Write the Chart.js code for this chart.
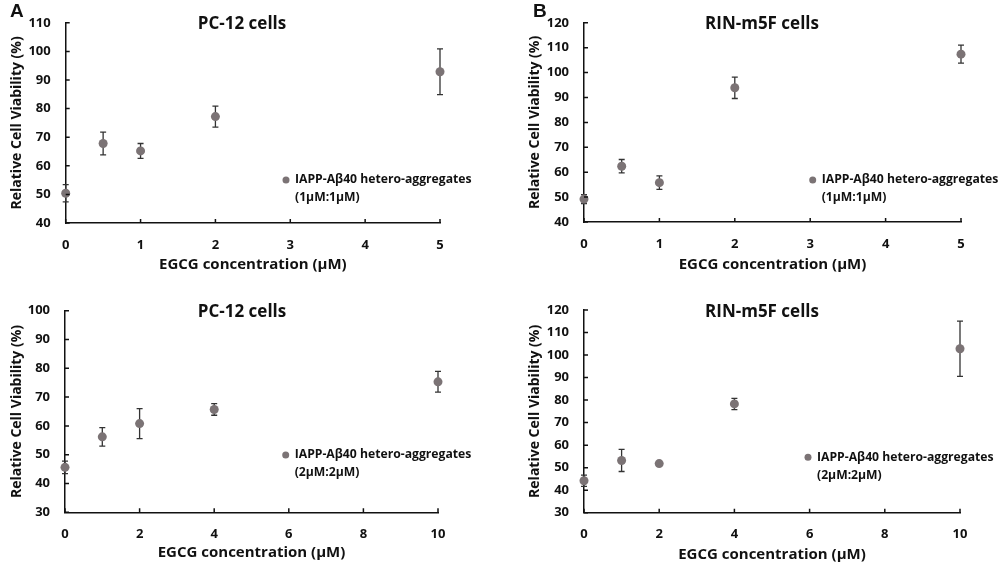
<!DOCTYPE html>
<html>
<head>
<meta charset="utf-8">
<script src="https://cdn.jsdelivr.net/npm/chart.js@4.4.0/dist/chart.umd.min.js"></script>
<style>
  body { margin: 0; background: #fff; width: 1003px; height: 567px; position: relative; overflow: hidden; }
  canvas { position: absolute; }
</style>
</head>
<body>
<canvas id="chartA" width="500" height="285" style="left:0;top:0"></canvas>
<canvas id="chartB" width="503" height="285" style="left:500px;top:0"></canvas>
<canvas id="chartC" width="500" height="282" style="left:0;top:285px"></canvas>
<canvas id="chartD" width="503" height="282" style="left:500px;top:285px"></canvas>
<script>
// data
const concTop = [0, 0.5, 1, 2, 5];
const concBottom = [0, 1, 2, 4, 10];

const viabA = [50.4, 67.8, 65.2, 77.2, 92.9];
const errA = [3.0, 4.0, 2.6, 3.7, 8.0];
const viabB = [49.2, 62.4, 55.8, 93.9, 107.4];
const errB = [1.8, 2.7, 2.7, 4.3, 3.6];
const viabC = [45.6, 56.2, 60.8, 65.7, 75.3];
const errC = [2.2, 3.2, 5.2, 2.0, 3.6];
const viabD = [44.2, 53.2, 51.8, 78.3, 102.8];
const errD = [2.5, 4.9, 0.5, 2.5, 12.3];

const yRangeA = [40, 110];
const yRangeB = [40, 120];
const yRangeC = [30, 100];
const yRangeD = [30, 120];

const cellTitles = ['PC-12 cells', 'RIN-m5F cells'];
const seriesName = 'IAPP-Aβ40 hetero-aggregates';
const ratioTop = '(1μM:1μM)';
const ratioBottom = '(2μM:2μM)';
const xTitle = 'EGCG concentration (μM)';
const yTitle = 'Relative Cell Viability (%)';

const FONT = "'Open Sans', Lato, sans-serif";
const DOT = '#7b7375';
const INK = '#111';

const extras = {
  id: 'extras',
  beforeDatasetsDraw(chart, args, o) {
    const { ctx, scales: { x, y } } = chart;
    const ds = chart.data.datasets[0].data;
    ctx.save();
    ctx.strokeStyle = '#333';
    ctx.lineWidth = 1.3;
    ds.forEach((p, i) => {
      const px = x.getPixelForValue(p.x);
      const t = y.getPixelForValue(p.y + o.err[i]);
      const b = y.getPixelForValue(p.y - o.err[i]);
      ctx.beginPath();
      ctx.moveTo(px, t); ctx.lineTo(px, b);
      ctx.moveTo(px - 3, t); ctx.lineTo(px + 3, t);
      ctx.moveTo(px - 3, b); ctx.lineTo(px + 3, b);
      ctx.stroke();
    });
    ctx.restore();
  },
  afterDraw(chart, args, o) {
    const { ctx, chartArea: a, scales: { x, y } } = chart;
    ctx.save();
    // inward tick marks
    ctx.strokeStyle = INK;
    ctx.lineWidth = 1.5;
    ctx.beginPath();
    y.ticks.forEach(t => {
      const py = y.getPixelForValue(t.value);
      ctx.moveTo(a.left, py); ctx.lineTo(a.left + 4, py);
    });
    x.ticks.forEach(t => {
      const px = x.getPixelForValue(t.value);
      ctx.moveTo(px, a.bottom); ctx.lineTo(px, a.bottom - 4);
    });
    ctx.stroke();
    // panel title
    ctx.fillStyle = INK;
    ctx.textAlign = 'center';
    ctx.textBaseline = 'middle';
    ctx.font = 'bold 17px ' + FONT;
    ctx.fillText(o.title, o.titleX, o.titleY);
    // legend
    ctx.fillStyle = DOT;
    ctx.beginPath();
    ctx.arc(o.legX, o.legY, 3.5, 0, Math.PI * 2);
    ctx.fill();
    ctx.fillStyle = INK;
    ctx.textAlign = 'left';
    ctx.font = 'bold 12.2px ' + FONT;
    ctx.fillText(seriesName, o.legX + 9, o.legY);
    ctx.fillText(o.ratio, o.legX + 9, o.legY + 18);
    // panel letter
    if (o.letter) {
      ctx.font = "bold 19px 'Liberation Sans', Arial, sans-serif";
      ctx.fillText(o.letter, o.letterX, 12);
    }
    ctx.restore();
  }
};

function makePanel(id, xs, ys, err, yRange, xMax, xStep, lay) {
  new Chart(document.getElementById(id), {
    type: 'scatter',
    data: {
      datasets: [{
        data: xs.map((v, i) => ({ x: v, y: ys[i] })),
        backgroundColor: DOT,
        borderWidth: 0,
        pointRadius: 4.5,
        clip: false
      }]
    },
    options: {
      responsive: false,
      animation: false,
      layout: { padding: { left: lay.pl, right: lay.pr, top: lay.pt, bottom: 0 } },
      scales: {
        x: {
          type: 'linear', min: 0, max: xMax,
          afterFit: s => { s.height = lay.xh; },
          grid: { display: false, drawTicks: false },
          border: { display: true, color: INK, width: 1.5 },
          ticks: { stepSize: xStep, padding: 14, color: INK, font: { family: FONT, size: 13, weight: 'bold' } },
          title: { display: true, text: xTitle, color: INK, padding: { top: 0, bottom: lay.xtp }, font: { family: FONT, size: 15, weight: 'bold' } }
        },
        y: {
          min: yRange[0], max: yRange[1],
          afterFit: s => { s.width = lay.yw; },
          grid: { display: false, drawTicks: false },
          border: { display: true, color: INK, width: 1.5 },
          ticks: { stepSize: 10, padding: 15, color: INK, font: { family: FONT, size: 13, weight: 'bold' } },
          title: { display: true, text: yTitle, color: INK, padding: 0, font: { family: FONT, size: 14, weight: 'bold' } }
        }
      },
      plugins: {
        legend: { display: false },
        tooltip: { enabled: false },
        extras: {
          err: err, title: lay.title, titleX: lay.tx, titleY: lay.ty,
          legX: lay.lx, legY: lay.ly, ratio: lay.ratio,
          letter: lay.letter, letterX: lay.letterX
        }
      }
    },
    plugins: [extras]
  });
}

makePanel('chartA', concTop, viabA, errA, yRangeA, 5, 1,
  { pl: 8.6, pr: 60, pt: 22.7, yw: 57.1, xh: 62, xtp: 11, title: cellTitles[0], tx: 242, ty: 24, lx: 286, ly: 180, ratio: ratioTop, letter: 'A', letterX: 10 });
makePanel('chartB', concTop, viabB, errB, yRangeB, 5, 1,
  { pl: 26.6, pr: 42, pt: 22, yw: 57.4, xh: 63, xtp: 11, title: cellTitles[1], tx: 262, ty: 24, lx: 312.7, ly: 180, ratio: ratioTop, letter: 'B', letterX: 33 });
makePanel('chartC', concBottom, viabC, errC, yRangeC, 10, 2,
  { pl: 8.3, pr: 62, pt: 25.7, yw: 56.7, xh: 54.7, xtp: 5, title: cellTitles[0], tx: 242, ty: 27, lx: 285.7, ly: 170, ratio: ratioBottom });
makePanel('chartD', concBottom, viabD, errD, yRangeD, 10, 2,
  { pl: 26.6, pr: 43, pt: 25, yw: 57.4, xh: 54.3, xtp: 3.7, title: cellTitles[1], tx: 262, ty: 27, lx: 308, ly: 172.3, ratio: ratioBottom });
</script>
</body>
</html>
